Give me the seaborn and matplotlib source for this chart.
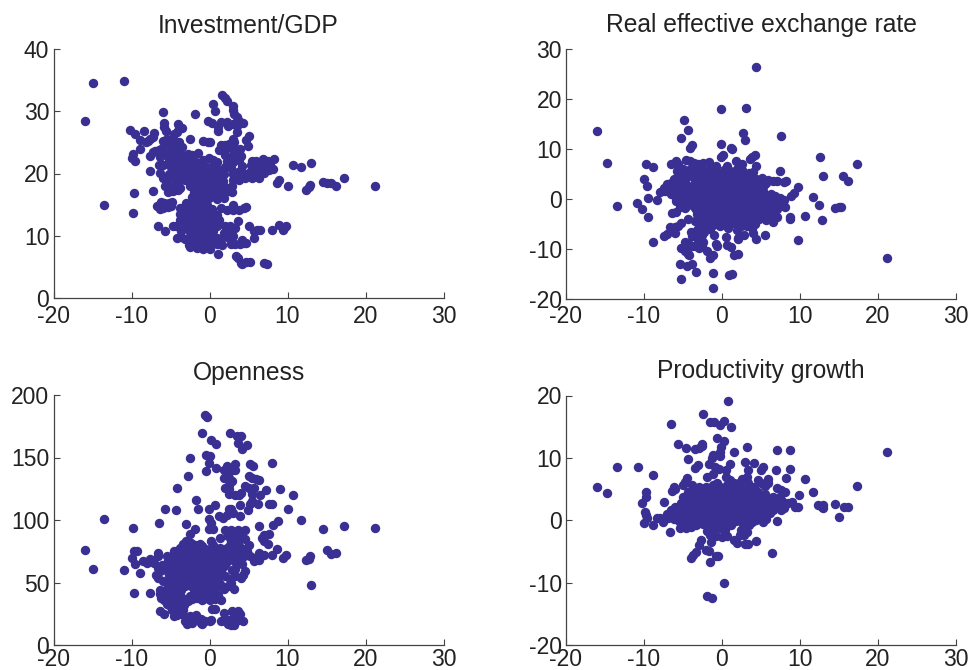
import matplotlib
matplotlib.use("Agg")
import matplotlib.pyplot as plt
import pandas as pd
import seaborn as sns

# Values as (x, y), panel by panel
investment = [
    (-16, 28.4), (-14.9, 34.6), (-10.9, 34.8), (-13.5, 15), (-9.7, 16.8), (-9.8, 13.7), (21.2, 18), (17.3, 19.2),
    (16.2, 18), (15.6, 18.4), (15, 18.5), (14.5, 18.6), (13, 21.7), (11.7, 21), (10.7, 21.4), (10, 18), (8.9, 19),
    (8.7, 18.5), (12.4, 17.3), (12.7, 17.8), (12.9, 18.1), (8.3, 22.4), (8.2, 20.8),
    (1.6, 32.6), (2, 32.2), (2.2, 31.6), (0.4, 31.2), (3, 30.8), (0.7, 30), (3, 30.2), (-5.9, 29.9), (-1.9, 29.5),
    (3.2, 29.5), (3.5, 29), (3.8, 28.4), (-0.2, 28.4), (0.3, 28.1), (1.5, 28.3), (2.2, 28.3), (2.4, 27.7), (3, 27.9),
    (4.3, 28.1), (3.5, 27.6), (1.1, 27.5), (1.1, 26.9), (-5.8, 28.1), (-5.8, 27.4), (-5.6, 26.8), (-4, 27.9),
    (-3.9, 27.3), (-3.5, 27.3), (-10.2, 27), (-9.6, 26.4), (-8.4, 26.8), (-7.1, 26.5), (-7.2, 25.8), (-4.6, 26.3),
    (-4.2, 26.7), (3.5, 26.7), (5, 26.1), (4.7, 25.4), (4.9, 24.4), (-2.5, 25.5), (-0.8, 25.2), (-0.2, 25.1),
    (0.1, 25.1), (-8.9, 25.4), (-8.1, 25.1), (-7.9, 25.3), (-7.6, 25.6), (-6, 25.3), (-5.5, 25.5), (-5, 25),
    (-4.5, 25.2), (-3.9, 25), (3, 25.5), (3.2, 25), (2.5, 24.8), (2, 24.6), (1.5, 24.6),
    (-8.9, 23.9), (-6.2, 24), (-6.5, 23.8), (-7, 23.6), (-7.3, 23.4), (-5.5, 24.2), (-5, 23.9), (-4.5, 24.1), (-4, 24.2),
    (-3.5, 24.3), (1.2, 23.7), (2, 24), (2.7, 24.1), (3.3, 23.9), (3.9, 24), (-9.8, 23.1), (-10, 22.5), (-9.6, 22),
    (-7.6, 22.8), (-6.3, 22.7), (-5.6, 23), (-4.9, 22.8), (-4.2, 23.2), (-3.5, 22.9), (-2.8, 23.2), (-2.2, 23),
    (-1.5, 23.3), (2, 23), (2.8, 22.7), (3.5, 23), (4.1, 22.8), (-5.2, 22), (-4.5, 22.2), (-3.8, 21.9), (-3.1, 22.1),
    (-2.4, 22), (-1.7, 21.8), (-0.8, 22.2), (-0.1, 22.5), (0.5, 22.1), (1, 21.8), (2.2, 22), (3, 21.8), (3.8, 22.2),
    (-6.5, 21.4), (-6, 21.3), (-5, 21), (-4.3, 21.2), (-3.6, 20.9), (-2.9, 21.1), (-2.2, 20.8), (-1.5, 20.9),
    (-0.9, 21.2), (-0.3, 21), (0.4, 21.1), (1, 20.8), (2, 21), (2.7, 20.9), (4.2, 21.2), (5.3, 21.3), (5.9, 22),
    (6.4, 21.4), (6.9, 22.4), (7.5, 22), (5.5, 22), (7.2, 21), (6.2, 20.8), (7.8, 21.4),
    (-7.6, 20.4), (-6.3, 20.1), (-5.2, 20), (-4.5, 19.9), (-3.8, 20.1), (-3.1, 19.9), (-2.4, 20), (-1.7, 20.2), (-1, 19.9),
    (-0.3, 20), (0.4, 20.2), (1.1, 19.9), (1.8, 20), (3, 20), (3.7, 20.2), (4.5, 20), (5.2, 20.3), (5.9, 20), (7, 20.1),
    (7.6, 20.6), (-6, 19.2), (-5.4, 18.9), (-4.6, 19.1), (-3.9, 18.8), (-3.2, 19), (-2.5, 19.1), (-1.8, 18.9), (-1.1, 19.1),
    (-0.4, 18.9), (0.3, 19), (1, 19.1), (1.7, 18.8), (3, 18.9), (3.8, 19), (4.5, 19.2), (5.5, 19.3), (6.4, 19.3),
    (-5.7, 18), (-5.2, 17.9), (-4.4, 18.2), (-3.8, 17.7), (-2.5, 18), (-1.8, 17.8), (-1.1, 18.1), (-0.4, 17.9), (0.3, 18),
    (1, 17.8), (1.7, 18.1), (2.3, 17.6), (2.9, 18), (-7.3, 17.2), (-5.3, 17), (-4.7, 17.2), (-4, 17.3), (-2, 17),
    (-1.3, 16.9), (-0.6, 17.1), (0.1, 16.9), (0.8, 17.1), (1.5, 17), (2.5, 17.2), (2.9, 17.1),
    (-2.2, 16.2), (-1.5, 16), (-0.8, 15.9), (-0.1, 16.1), (0.9, 15.9), (1.8, 16), (-6.2, 15.4), (-5.8, 15.3), (-5.2, 15.2),
    (-4.8, 15.4), (-3, 15.3), (-2.3, 15.4), (-1.6, 15.2), (-0.9, 15.3), (-0.3, 15), (-6.7, 14.7), (-6.3, 14.3), (-5.9, 14.4),
    (-5.3, 14.6), (-4.9, 14.8), (-3.8, 14.5), (-3.2, 14.6), (-2.5, 14.4), (-1.8, 14.5), (-1.1, 14.3), (-0.4, 14.5),
    (0.3, 14.3), (1.5, 14.4), (2.2, 14.2), (3, 14.9), (3, 14.2), (3.8, 14.2), (4.4, 14.4), (4.7, 14.6),
    (-3.8, 13.5), (-3.1, 13.4), (-2.4, 13.6), (-1.7, 13.4), (-1, 13.5), (-0.3, 13.3), (0.4, 13.5), (1, 13.4),
    (-3.8, 12.5), (-3.1, 12.4), (-2.4, 12.6), (-1.7, 12.4), (-1, 12.5), (-0.3, 12.3), (0.4, 12.5), (1.2, 12.6),
    (-6.6, 11.5), (-4.7, 11.5), (-4.3, 11.6), (-3.3, 11.4), (-2.5, 11.7), (-1.8, 11.5), (-1.1, 11.6), (-0.4, 11.4),
    (0.3, 11.5), (1, 11.6), (2, 11.5), (2.6, 11.6), (3.3, 11.2), (3.6, 12.4), (5.1, 11.6), (6.5, 10.9), (8, 11), (8.9, 11.7),
    (9.5, 11.2), (9.8, 11.6), (-5.7, 10.7), (-3.6, 10.8), (-2.5, 10.6), (-1.8, 10.8), (-1.1, 10.6), (-0.4, 10.7),
    (0.5, 10.7), (1.8, 10.5), (2.6, 10.7), (5.7, 10.8), (6.1, 11), (9.4, 10.9), (-4.2, 9.6), (-3.6, 9.8), (-3.2, 9.5),
    (-2.2, 9.7), (-1.5, 9.6), (-0.8, 9.8), (0, 9.6), (0.9, 9.7), (1.5, 9.5), (2.5, 9.6), (3, 10), (5.7, 9.7),
    (-2.6, 8.5), (-1.9, 8.7), (-1.2, 8.6), (-0.5, 8.8), (0.2, 8.6), (0.9, 8.7), (1.6, 8.5), (2.7, 8.6), (3.3, 8.7), (4.2, 9.3),
    (4.7, 8.9), (4.4, 8.8), (3.9, 8.6), (-2.5, 8.2), (-1.6, 8.1), (-0.8, 7.9), (0, 7.9),
    (1.1, 7), (3.4, 6.7), (3.7, 6.4), (4, 5.7), (4.2, 5.4), (4.7, 5.8), (5.2, 5.8), (7, 5.6), (7.4, 5.5),
]

exchange = [
    (4.3, 26.3), (-0.1, 17.9), (3.1, 18.1), (-4.9, 15.8), (-4.4, 13.8), (-5.3, 12.2), (2.7, 13.1), (3, 11.7), (7.5, 12.6),
    (-16, 13.5), (-14.8, 7.2), (-3.8, 10.8), (-4.1, 10.1), (-0.1, 11), (1.1, 10.1), (1.3, 9.9), (12.6, 8.3), (17.3, 6.9),
    (-9.8, 6.9), (-8.8, 6.3), (12.9, 4.5), (15.5, 4.5), (16.1, 3.5), (7.4, 5.6), (-10, 4), (-9.6, 2.6), (-9.5, 0.2),
    (-8.3, -0.3), (-10.9, -0.8), (-13.4, -1.5), (-10.2, -2.1), (-9.5, -3.7), (9.8, 2.4), (9.2, 1.2), (8.9, 0.5),
    (11.7, 0.4), (12.4, -1.2), (14.5, -1.9), (15, -1.7), (15.2, -1.6), (12.8, -4.2), (10.6, -3.5), (8.7, -3.6), (8.7, -4),
    (9.8, -8.2), (21.2, -11.9), (-8.9, -8.7), (-7.5, -7.4), (-7.1, -7), (-6, -6.9), (-6.7, -5.7), (-6, -5.6), (-5.6, -5.4),
    (-5.3, -4.8), (-4.8, -8.6), (-4.3, -8.9), (-5.2, -9.9), (-4.8, -10.4), (-4.4, -11), (-4.2, -11.3), (-3.4, -9.4),
    (-3.9, -9.5), (-3, -9.8), (-2.6, -9.2), (-2.4, -8.6), (-1.9, -10.4), (-1.2, -11.2), (-1.5, -11.8), (-0.8, -9),
    (-0.7, -9.4), (0.5, -7.6), (0.7, -9.3), (1.2, -9.6), (1.5, -11.3), (2, -11), (-5.4, -13), (-4.5, -13.5), (-3.9, -13),
    (-3.3, -14.7), (-1.2, -14.9), (0.9, -15.3), (1.3, -15.1), (-5.3, -16), (-1.2, -17.8), (2.1, -8.1), (2.8, -7.3),
    (4.4, -8.1), (5.5, -7.3), (4, -6.9), (-1, -7.2), (-3.8, -7.5), (-3.2, -7.9), (-2.6, -7.2), (-4, -6.7),
    (2, -7.8), (0.8, -5.9), (1.9, -6.2), (3.9, -5.8), (4.2, -5), (-3.2, -6.2), (-2.3, -6.6), (-1.5, -6),
    (-0.1, 8.3), (0.1, 8.8), (3.6, 8), (3.9, 8.4), (4.2, 8.8), (4.3, 6.5), (4, 5.4), (-6.6, 6.9), (-5.9, 7.5), (-5.7, 6.9),
    (-4.6, 7.8), (-4.1, 7.5), (-3.6, 7.2), (-3.1, 6.9), (-2.4, 7.1), (-1.7, 7.4), (1.8, 7.5), (2.6, 7), (-0.8, 6.6), (0.6, 6.5),
    (-5.8, 5.5), (-5, 6), (-4.2, 5.8), (-3.4, 5.5), (-2.6, 5.9), (-1.5, 6), (0.2, 5.8), (1, 5.6), (1.9, 6), (2.6, 5.7), (3.4, 5.2),
    (-6.2, 4), (-5.3, 4.3), (-4.4, 4.6), (-3.6, 4.1), (-2.8, 4.4), (-1.9, 4.7), (-1, 4.4), (-0.1, 4.7), (0.8, 4.3), (1.7, 4.6),
    (2.6, 4.2), (3.5, 4.5), (4.3, 4), (5.1, 4.1), (5.9, 3.8), (6.5, 3.6), (7, 3.5), (7.9, 3.3), (8.2, 3.5),
    (-7.4, 2.2), (-7, 3), (-6.6, 3.1), (-5.4, 3), (-4.6, 3), (-3.6, 2.8), (-2.7, 3.2), (-1.8, 3), (-0.9, 3.2), (0, 3), (0.9, 3.2),
    (1.8, 2.9), (2.7, 3.2), (3.6, 2.9), (4.5, 3.1), (5.4, 2.7), (5.7, 3.1), (-8, 1.4), (-7.3, 1.5), (-6.5, 2), (-6, 2.4),
    (-5.4, 1.7), (-4.5, 1.8), (-3.6, 1.6), (-2.7, 1.9), (-1.8, 1.7), (-0.9, 1.9), (0, 1.7), (0.9, 1.9), (1.8, 1.6), (2.7, 1.9),
    (3.6, 1.7), (4.5, 1.8), (5.2, 1.6), (-6.6, 1), (-6, 0.6), (-5.2, 0.6), (-4.5, 0.5), (-3.6, 0.4), (-2.7, 0.7), (-1.8, 0.4),
    (-0.9, 0.6), (0, 0.4), (0.9, 0.7), (1.8, 0.4), (2.7, 0.6), (3.6, 0.4), (4.5, 0.6), (5.4, 0.4), (6.3, 1), (6.8, 0.6),
    (7.4, 0.1), (7.9, -0.2), (-5.9, -0.4), (-4.8, -0.7), (-4, -0.6), (-3.6, -0.8), (-2.7, -0.6), (-1.8, -0.9), (-0.9, -0.6),
    (0, -0.9), (0.9, -0.6), (1.8, -0.9), (2.7, -0.6), (3.6, -0.9), (4.5, -0.7), (5.4, -0.6), (6.1, -0.9), (6.9, -0.7),
    (7.6, -1.3), (8.1, -1.7), (-5.4, -1.6), (-4.8, -1.9), (-3.5, -1.9), (-2.7, -1.8), (-1.8, -2.1), (-0.9, -1.9), (0, -2.1), (0.9, -1.8),
    (1.8, -2.1), (2.7, -1.9), (3.6, -2.1), (4.5, -1.8), (5.4, -2), (6.4, -2.2), (7, -2), (-6.4, -2.8), (-5.9, -2.6),
    (-3.2, -3), (-2.7, -3.2), (-1.8, -3), (-0.9, -3.3), (0, -3), (0.9, -3.3), (1.8, -3), (2.7, -3.3), (3.6, -3), (4.5, -3.2),
    (5.5, -3), (6.2, -3.5), (7, -3.6), (-4.3, -4.1), (-3.4, -4.5), (-2.5, -4.2), (-1.6, -4.4), (-0.7, -4.1), (0.2, -4.4), (1.1, -4.2),
    (2, -4.4), (2.9, -4.1), (3.8, -4.4), (4.7, -4.1), (5.6, -4.2), (6.5, -4.7), (-3, -5.4), (-2.1, -5.6), (-1.2, -5.3),
    (-0.3, -5.5), (2.4, -5.4), (3.2, -5.5),
]

# second pass over the solid middle of the exchange rate panel
exchange_core = [
    (-3.1, 3.8), (-2.2, 3.7), (-1.4, 3.9), (-0.5, 3.6), (0.4, 3.8), (1.3, 3.7), (2.2, 3.9), (3.1, 3.6),
    (-4.1, 2.4), (-3.2, 2.3), (-2.3, 2.5), (-1.4, 2.3), (-0.5, 2.5), (0.4, 2.3), (1.3, 2.5), (2.2, 2.3), (3.1, 2.4), (4, 2.4),
    (-4.9, 1.1), (-4.1, 1.1), (-3.2, 1.1), (-2.3, 1.2), (-1.4, 1.1), (-0.5, 1.2), (0.4, 1.1), (1.3, 1.2), (2.2, 1.1), (3.1, 1.1), (4, 1.2), (4.9, 1.1),
    (-5, -0.1), (-4.1, -0.1), (-3.2, -0.1), (-2.3, -0.1), (-1.4, 0), (-0.5, -0.1), (0.4, -0.2), (1.3, -0.1), (2.2, -0.1), (3.1, -0.2), (4, -0.1), (4.9, -0.1), (5.8, -0.1),
    (-4.3, -1.3), (-3.2, -1.3), (-2.3, -1.3), (-1.4, -1.4), (-0.5, -1.3), (0.4, -1.4), (1.3, -1.3), (2.2, -1.4), (3.1, -1.3), (4, -1.3), (4.9, -1.3), (5.8, -1.3),
    (-3.2, -2.5), (-2.3, -2.5), (-1.4, -2.6), (-0.5, -2.5), (0.4, -2.6), (1.3, -2.5), (2.2, -2.6), (3.1, -2.5), (4, -2.6), (4.9, -2.5), (5.9, -2.6),
    (-2.9, -3.7), (-2.1, -3.7), (-1.2, -3.7), (-0.3, -3.7), (0.6, -3.7), (1.5, -3.7), (2.4, -3.7), (3.3, -3.7), (4.2, -3.7), (5.1, -3.6),
    (-2, -4.9), (-1.1, -4.9), (-0.2, -4.9), (0.7, -4.9), (1.6, -4.9), (2.5, -4.8), (3.4, -4.9),
    (-5.7, 5.3), (-4.5, 5.2), (-3, 5), (-1.9, 5.3), (-0.9, 5.5), (0.6, 5), (1.4, 5.3), (2.3, 5), (3, 4.8),
]

openness = [
    (-16, 76), (-14.9, 60.5), (-13.5, 101), (-10.9, 60), (-9.8, 94), (-9.7, 41.5), (-7.6, 42), (-8.9, 58), (-9.7, 75), (-9.9, 70),
    (-9.5, 65), (-9.3, 75), (-8.5, 67), (-8, 66), (-7.6, 69), (-7.1, 66), (-6.6, 74), (-6.6, 71), (-6.5, 97.5), (-5.7, 108.5),
    (-4.3, 108), (-4.2, 126), (-3, 96.5), (-2.8, 135), (-2.5, 150), (-2.5, 88.5), (-1.8, 93), (-1.7, 116), (-1.5, 109),
    (-0.9, 170), (-0.6, 184), (-0.3, 182.5), (-0.5, 152), (0, 151), (-0.1, 146), (-0.5, 139), (0.2, 164), (0.8, 161), (0.8, 142),
    (0.7, 112), (-0.1, 109), (-0.1, 101), (-0.1, 93), (0.4, 93), (0.2, 98), (1.2, 103), (1.7, 102), (1.4, 86), (2.2, 104),
    (2.6, 170), (3.5, 167), (4, 167), (3.6, 162), (4.2, 157), (4.8, 160), (2.3, 143), (3.3, 145), (1.9, 140), (2.6, 139),
    (3.3, 140), (3, 141), (5.2, 145), (5.6, 143), (8, 146), (5, 135), (5.5, 134), (5.9, 133), (6.4, 132), (1.9, 134),
    (2.5, 134), (2.9, 131), (2.5, 128), (2, 126), (2.5, 125), (4.5, 127), (5, 126), (5.7, 126), (5.5, 121), (6.5, 120),
    (7.3, 124), (9, 125), (10.7, 120), (2.5, 121), (3.3, 120), (3.8, 120), (4, 122), (5.4, 115), (5.2, 113), (6.2, 113),
    (7.6, 113), (8, 113), (3.9, 112), (4.9, 108), (10, 109), (2.5, 109), (2.8, 109), (3, 106), (3.9, 103), (11.7, 100),
    (8.8, 99), (8.2, 96), (6.4, 95), (14.5, 93), (17.3, 95), (21.2, 94), (4.6, 92), (2, 92), (2.8, 92), (3.6, 92),
    (7, 88), (7.6, 89), (6.7, 86), (7, 83), (7.5, 81), (2.4, 87), (3.2, 87), (4, 86), (4.5, 85), (2.8, 83), (3.6, 81),
    (0.2, 83), (-1.2, 81), (-2.4, 82), (-3, 83), (5.1, 80), (3.4, 78), (4, 78), (4.6, 77), (8.7, 77), (15, 76), (16.2, 74),
    (15.6, 73), (9.8, 72), (9.4, 70), (12.9, 71), (12.7, 69), (12.4, 68), (13, 48), (8, 72), (7, 72), (6.4, 74), (5.8, 70),
    (5.7, 67), (6.3, 68), (5.2, 71),
    (-4.5, 75), (-3.8, 78), (-3.2, 79), (-2, 78), (-1, 79), (0, 77), (1, 76), (2, 74), (2.7, 76), (-5.5, 71), (-4.6, 70), (-3.7, 72),
    (-2.8, 74), (-1.9, 72), (-1, 74), (0, 72), (0.9, 73), (1.8, 70), (2.7, 71), (3.6, 72), (4.4, 71), (-5.4, 66), (-4.8, 65),
    (-3.8, 66), (-2.9, 67), (-2, 66), (-1.1, 68), (-0.2, 66), (0.7, 67), (1.5, 65), (2.4, 68), (3.4, 66), (4.2, 65), (-6.6, 62),
    (-6.1, 64), (-3.7, 61), (-2.9, 62), (-2, 60), (-1.1, 62), (-0.2, 60), (0.7, 62), (1.5, 60), (2.9, 60), (3.3, 61), (-6.9, 56),
    (-6.3, 59), (-5.6, 60), (-4.8, 59), (-3.6, 56), (-2.7, 55), (-2, 55), (-1.1, 57), (-0.2, 55), (0.7, 56), (1.6, 57), (4.6, 59), (4.3, 56),
    (4, 54), (-6.6, 54), (-6, 51), (-4.9, 53), (-3.8, 50), (-2.7, 50), (-2, 50), (-1.1, 51), (-0.2, 50), (0.7, 51), (1.4, 49),
    (2.8, 50), (2.4, 47), (3.1, 45), (-6.4, 44), (-5.5, 45), (-4.5, 46), (-3.6, 44), (-2, 45), (-1.1, 45), (-0.2, 45), (0.7, 45),
    (-6.4, 41), (-5.6, 40), (-4.7, 41), (-3.8, 40), (-2.5, 39), (-1.7, 40), (-0.8, 40), (0.2, 40), (1.1, 40), (-5.8, 36),
    (-5, 36), (-4.2, 36), (-3.5, 36), (-2.7, 35), (-2.2, 37), (-1, 36), (0, 36), (1.5, 36), (-5.2, 32), (-4.4, 32), (-3.6, 32),
    (-3.4, 28), (-4, 27), (-6.3, 27), (-5.8, 25), (-4.6, 23), (-4.2, 24), (-3.5, 25), (0.3, 29), (0.7, 29), (1.9, 26), (2.9, 27),
    (3.5, 26), (3.7, 27), (3.9, 25), (-3.1, 19), (-2.9, 17), (-2.6, 19), (-2.3, 18), (-1.9, 21), (-1.7, 24), (-1.5, 21), (-1.1, 18),
    (-1.1, 21), (-0.6, 19), (-1, 17), (0, 19), (0.2, 20), (1.5, 19), (2, 19), (2.4, 17), (2.8, 16), (3.2, 16), (3.4, 19), (3.7, 20),
    (4.3, 19), (-2.5, 23), (2.5, 20), (3, 22),
]

# second pass over the solid middle of the openness panel
openness_core = [
    (-4.2, 73), (-3.3, 74), (-2.4, 76), (-1.5, 76), (-0.6, 77), (0.4, 75), (1.4, 74), (2.2, 78), (3.1, 75), (3.9, 75),
    (-4.3, 68), (-3.4, 69), (-2.5, 70), (-1.5, 70), (-0.6, 70), (0.3, 69), (1.2, 69), (2.1, 66), (3, 68), (3.8, 68),
    (-4.4, 62), (-3.3, 64), (-2.4, 64), (-1.6, 64), (-0.7, 64), (0.2, 64), (1.1, 64), (1.9, 63),
    (-5.2, 56), (-4.2, 57), (-3.3, 58), (-2.4, 59), (-1.6, 59), (-0.7, 58), (0.2, 58), (1.1, 58), (2, 55), (-5.4, 50), (-4.4, 51),
    (-3.2, 53), (-2.4, 53), (-1.5, 53), (-0.7, 53), (0.2, 53), (1.1, 53), (-5, 43), (-4.1, 42), (-3.1, 47), (-2.4, 47), (-1.5, 48),
    (-0.7, 48), (0.2, 48), (1, 47), (1.8, 45), (-6.2, 38), (-5.3, 38), (-4.5, 38), (-3.5, 38), (-2, 42), (-1.2, 42), (-0.3, 42), (0.6, 42),
    (-3.3, 32), (-4.8, 28), (-4, 30), (-5.5, 33), (-1.6, 38), (-0.4, 38), (0.7, 37), (3.3, 55), (2.6, 53),
    (2.6, 80), (3.2, 85), (4, 90), (3.5, 89), (2.3, 91), (4.8, 75), (1.3, 78), (0.5, 80), (-1.8, 80), (-3.4, 81),
]

productivity = [
    (21.2, 10.9), (17.3, 5.5), (16.2, 2.2), (15.6, 2.2), (15, 0.6), (14.5, 2.6), (13, 2.4), (12.9, 1.9), (12.8, 2.2), (12.3, 2.4), (11.7, 4.6),
    (10.6, 6.6), (9.9, 4), (9.8, 2.1), (9.4, 2.2), (9, 3), (8.7, 11.2), (8.7, 8.2), (8.2, 6.8), (7.5, 4.9), (7, 5.2), (7, 11.3),
    (6.9, 8.1), (6.4, -5.3), (7, -0.1), (5.2, 8.6), (5, 8.1), (4.1, 9.1), (3, 9.3), (3.2, 11.8), (3.3, 8.1),
    (0.8, 19.1), (-2.4, 17.1), (-6.6, 15.4), (-1.6, 15.7), (-1, 15.8), (-0.2, 15.2), (0.2, 15.9), (1.1, 14.9), (-0.6, 13.2),
    (0.2, 12.7), (-5.7, 12.3), (-4.6, 11.6), (-3.4, 11.5), (-2.9, 11.6), (-2.6, 11.9), (-2.6, 12.3), (-0.1, 11.8), (-0.3, 11),
    (-1.2, 10.4), (-1.3, 9.9), (-0.3, 10.3), (1.5, 10.9), (-4.3, 9.8), (-3.1, 8.9), (-3.5, 8.3), (-1.7, 9), (1, 9), (-0.9, 8.6),
    (-0.4, 8.2), (0.5, 8), (-13.4, 8.5), (-10.8, 8.6), (-8.9, 7.3), (-16, 5.3), (-14.8, 4.3), (-9.8, 4.5), (-9.8, 3.7), (-10.2, 2.8),
    (-7.4, 3), (-9.9, 1.4), (-9.7, 0.8), (-9.6, 0.3), (-10, -0.5), (-8.9, -0.8), (-8.3, 0.4), (-7.9, 0.3), (-7.6, -0.3), (-6.7, -1.9),
    (-6.4, 4.7), (-6.2, 5.4), (-6, 5), (-4.5, 6.7), (-4.7, 6.1), (-5, 5.6), (-3.9, 5.6), (-3, 5.4), (-1.9, 7), (-1.1, 7.4),
    (-0.7, 6), (0.5, 7), (1, 6.5), (2.5, 6.6), (3.2, 7), (4.6, 6.5), (5, 6), (5.5, 5.5), (5.9, 6.6), (5.9, 5.9),
    (-7, 1), (-6.5, 1.6), (-6, 2.2), (-5.2, 2.7), (-5, 3.8), (-4.4, 4.6), (-3.5, 4.5), (-2.6, 4.8), (-1.7, 5), (-0.8, 5), (0.1, 4.8),
    (1, 5), (1.9, 5.3), (2.8, 5.5), (3.7, 5), (4.6, 4.5), (5.5, 4.2), (6.6, 3.7), (7.4, 3.7), (8.1, 4.5), (7.7, 3.1), (8.4, 2.8),
    (-4.5, 3.7), (-3.6, 3.6), (-2.7, 3.8), (-1.8, 4), (-0.9, 4), (0, 3.8), (0.9, 4), (1.8, 4.1), (2.7, 3.9), (3.6, 3.7), (4.5, 3.8),
    (5.4, 3.2), (6.3, 3.1), (-5.4, 1.6), (-4.5, 2.4), (-3.6, 2.7), (-2.7, 2.9), (-1.8, 3), (-0.9, 3.1), (0, 2.9), (0.9, 3.1), (1.8, 3),
    (2.7, 2.9), (3.6, 2.8), (4.5, 2.9), (5.4, 2.3), (6.6, 2.2), (7.5, 2.3), (8, 1.9), (-6.4, 0.9), (-5.5, 0.7), (-4.6, 1.6), (-3.7, 1.9),
    (-2.8, 2), (-1.9, 2.1), (-1, 2.1), (-0.1, 1.9), (0.8, 2.2), (1.7, 2.1), (2.6, 1.9), (3.5, 2), (4.4, 2), (5.3, 1.5), (6.2, 1.2), (6.6, 1.6),
    (7.5, 1.6), (-6.9, 0.3), (-5.5, -0.1), (-4.6, 0.6), (-3.7, 1), (-2.8, 1.2), (-1.9, 1.1), (-1, 1.3), (-0.1, 1), (0.8, 1.2), (1.7, 1.1),
    (2.6, 1), (3.5, 1.2), (4.4, 1), (5.3, 0.5), (5.6, 0.2), (-5.1, -0.8), (-4.6, -1.2), (-4.1, -0.4), (-3.7, 0.2), (-2.8, 0.3), (-1.9, 0.2),
    (-1, 0.4), (-0.1, 0.2), (0.8, 0.4), (1.7, 0.2), (2.6, 0.1), (3.5, 0.4), (4.3, 0.1), (5.2, -0.3), (-5.4, -1.3), (-4, -1.1), (-3.3, -0.8),
    (-2.4, -0.6), (-1.5, -0.5), (-0.6, -0.6), (0.3, -0.5), (1.2, -0.8), (2.7, -0.6), (3.5, -0.7), (-1.9, -1.7), (-1.2, -1.4), (-0.3, -1.3),
    (0.4, -1.5), (2.4, -1.6), (3.2, -1.9), (-1.6, -2.3), (-0.8, -2.6), (0, -2.7), (0.6, -2.6), (2.3, -2.4), (2.8, -2.4),
    (-2.7, -3.2), (-1.4, -3.5), (1.5, -3.2), (1.9, -3.6), (3, -3.8), (3.3, -3.8), (4.4, -3.4), (-3, -4), (-2, -4.8), (-1.7, -4.9),
    (-3.3, -5.1), (-3.7, -5.5), (-4, -6), (-0.8, -5.7), (-0.5, -5.7), (-1.6, -6.7), (0.2, -10.1), (-1.9, -12.2), (-1.3, -12.5),
]

# second pass over the solid middle of the productivity panel
productivity_core = [
    (-3.1, 4.2), (-2.2, 4.4), (-1.3, 4.5), (-0.4, 4.5), (0.5, 4.4), (1.4, 4.6), (2.3, 4.5), (3.2, 4.4), (4.1, 4.2), (5, 4),
    (-4, 3.2), (-3.2, 3.3), (-2.3, 3.4), (-1.4, 3.5), (-0.5, 3.5), (0.4, 3.4), (1.3, 3.5), (2.2, 3.5), (3.1, 3.4), (4, 3.3), (4.9, 3.3),
    (-5, 2.1), (-4.1, 2.1), (-3.2, 2.3), (-2.3, 2.4), (-1.4, 2.6), (-0.5, 2.5), (0.4, 2.5), (1.3, 2.6), (2.2, 2.5), (3.1, 2.4), (4, 2.4), (4.9, 2.4), (5.8, 2.6),
    (-6, 1.2), (-5.1, 1.2), (-4.1, 1.2), (-3.2, 1.5), (-2.3, 1.6), (-1.4, 1.6), (-0.5, 1.5), (0.4, 1.6), (1.3, 1.6), (2.2, 1.5), (3.1, 1.6), (4, 1.5), (4.9, 1.2), (5.8, 1.7), (7, 2.8),
    (-6.1, 0.2), (-5.2, 0.3), (-4.2, 0.1), (-3.2, 0.7), (-2.3, 0.8), (-1.4, 0.8), (-0.5, 0.7), (0.4, 0.8), (1.3, 0.8), (2.2, 0.6), (3.1, 0.8), (4, 0.6), (4.9, 0.8),
    (-4.9, -0.3), (-3.6, -0.4), (-2.7, -0.2), (-1.8, -0.2), (-0.9, -0.1), (0, -0.2), (0.9, -0.1), (1.8, -0.2), (3.1, -0.2), (3.9, -0.3),
    (-3.1, 5), (-2.1, 5.4), (-1.2, 5.7), (-0.3, 5.3), (0.6, 5.7), (1.5, 6), (2.2, 5.9), (3.3, 6), (4.1, 5.4),
]

panels = [
    ("Investment/GDP", investment, (0, 40), [0, 10, 20, 30, 40], [53.5, 298, 390, 249], 11.5, 4.8),
    ("Real effective exchange rate", exchange + exchange_core, (-20, 30), [-20, -10, 0, 10, 20, 30], [566, 298.5, 390, 249.5], 12, 4.8),
    ("Openness", openness + openness_core, (0, 200), [0, 50, 100, 150, 200], [53.5, 645, 390, 250], 11, 2.5),
    ("Productivity growth", productivity + productivity_core, (-20, 20), [-20, -10, 0, 10, 20], [566, 645, 390, 249.5], 12.3, 2.5),
]
x_ticks = [-20, -10, 0, 10, 20, 30]

sns.set_style("ticks")
plt.rcParams["font.family"] = ["Liberation Sans", "DejaVu Sans"]
plt.rcParams["axes.unicode_minus"] = False

W, H = 968, 670
fig = plt.figure(figsize=(W / 100, H / 100), dpi=100)

for title, points, y_lim, y_ticks, box, title_pad, x_pad in panels:
    left, bottom, width, height = box
    ax = fig.add_axes([left / W, 1 - bottom / H, width / W, height / H])
    df = pd.DataFrame(points, columns=["x", "y"])
    sns.scatterplot(data=df, x="x", y="y", color="#3a2f93", s=46, linewidth=0, alpha=1, ax=ax, clip_on=False)
    ax.set_xlim(-20, 30)
    ax.set_ylim(*y_lim)
    ax.set_xticks(x_ticks)
    ax.set_yticks(y_ticks)
    ax.set_xlabel("")
    ax.set_ylabel("")
    ax.set_title(title, fontsize=17.7, color="#222222", pad=title_pad)
    ax.tick_params(direction="in", length=4, width=0.8, color="#444444", labelsize=16.5, labelcolor="#222222", pad=3)
    ax.tick_params(axis="x", pad=x_pad)
    sns.despine(ax=ax)
    for side in ("left", "bottom"):
        ax.spines[side].set_color("#444444")
        ax.spines[side].set_linewidth(0.9)

fig.savefig("out.png", dpi=100)
